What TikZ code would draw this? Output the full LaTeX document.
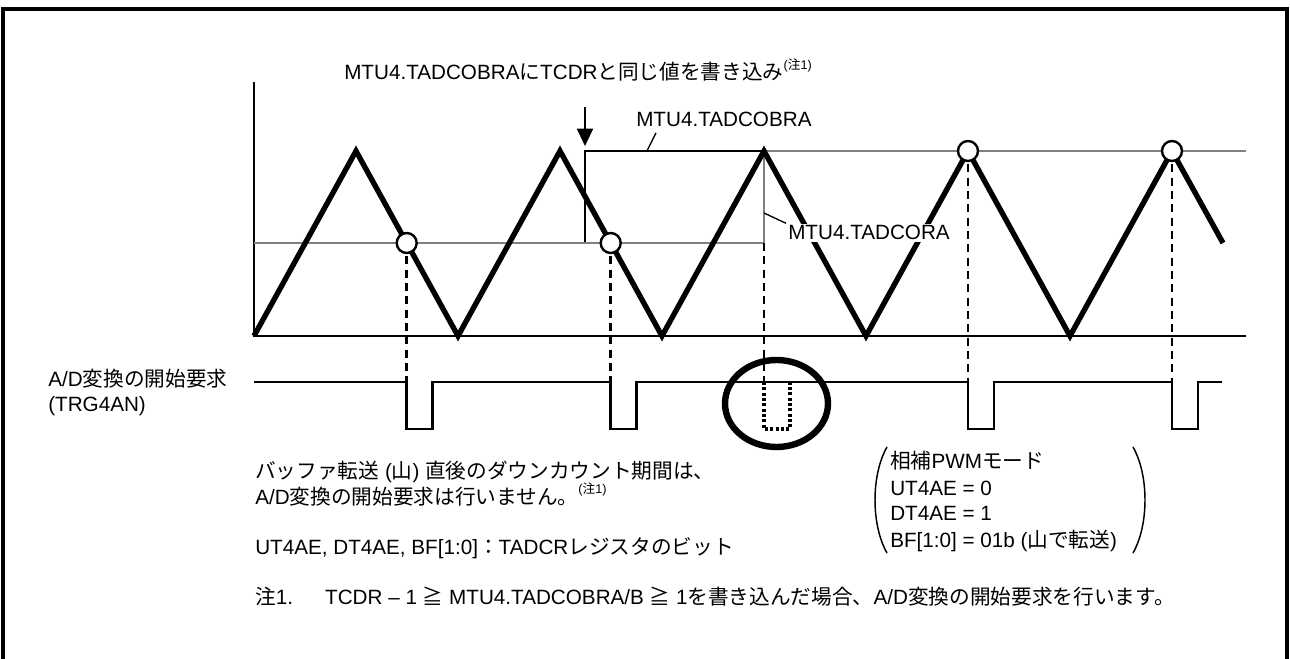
\documentclass[tikz,border=0pt]{standalone}
\usepackage{fontspec}
\setmainfont{Liberation Sans}
\newfontfamily\jpfont{Noto Sans CJK JP}
\usepackage{xcolor}
\usepackage{tikz}
\tikzset{>=latex}
\usetikzlibrary{
    positioning, % relative placement
    arrows.meta, % arrow tips
    calc % coordinate calculations
}
\definecolor{cmpgray}{RGB}{128,128,128}
\newcommand{\jp}[1]{{\jpfont #1}}
\newcommand{\chuone}{\raisebox{0.5em}{\fontsize{9.5}{10}\selectfont(\jp{注}1)}}

\begin{document}
\begin{tikzpicture}[x=0.75pt,y=-0.75pt]
    % styles
    \tikzstyle{txt}      = [inner sep=0pt, anchor=base west, font=\fontsize{15.5}{18}\selectfont]
    \tikzstyle{wave}     = [line width=4pt, line join=miter]
    \tikzstyle{cmpline}  = [draw=cmpgray, line width=2.2pt]
    \tikzstyle{dropline} = [line width=2pt, dash pattern=on 6pt off 4pt]
    \tikzstyle{trgline}  = [line width=2pt]
    \tikzstyle{hitmark}  = [draw, fill=white, line width=1.8pt]
    \useasboundingbox (0,0) rectangle (1290,659);
    % frame
    \draw[line width=2.5pt] (3,659) -- (3,9) -- (1287,9) -- (1287,659);
    % axes
    \draw[line width=1.2pt] (254,82) -- (254,336) -- (1246,336);
    % compare registers
    \draw[line width=1.5pt] (585,243) -- (585,151) -- (764,151);
    \draw[cmpline] (254,243) -- (764,243) -- (764,151) -- (1246,151);
    % counter
    \draw[wave] (254,336) \foreach \k in {0,...,3} { -- ({356+204*\k},151) -- ({458+204*\k},336) }
        -- (1172,151) -- (1223,243);
    % arrow
    \coordinate (wr) at (585,146);
    \draw[line width=1.5pt, -{Triangle[length=13pt,width=12pt]}] (585,107) -- (wr);
    % labels
    \node[txt] (top) at (344,80) {MTU4.TADCOBRA\jp{に}TCDR\jp{と同じ値を書き込み}\chuone};
    \node[txt] (cobra) at (636,127) {MTU4.TADCOBRA};
    \coordinate (cobratap) at (647,151);
    \draw[line width=1pt] (cobratap) -- ([xshift=15pt,yshift=-4pt]cobra.south west);
    \node[txt, fill=white, inner sep=1.5pt] (cora) at (786,240) {MTU4.TADCORA};
    \coordinate (coratap) at (764,213);
    \draw[line width=1pt] (coratap) -- (cora.north west);
    % drop lines and hit marks
    \foreach \x/\y in {406.7/243, 610.7/243, 764/243, 968/151, 1172/151}
        \draw[dropline] (\x,\y) -- (\x,382);
    \foreach \x/\y in {406.7/243, 610.7/243, 968/151, 1172/151}
        \draw[hitmark] (\x,\y) circle (10);
    % trigger signal
    \draw[trgline] (254,382) \foreach \p in {406.7,610.7,968,1172} { -- (\p,382) -- (\p,429) -- (\p+26,429) -- (\p+26,382) }
        -- (1222,382);
    \draw[line width=2.4pt, dash pattern=on 2.2pt off 1.8pt] (764,382) -- (764,429) -- (790,429) -- (790,382);
    \draw[line width=4.8pt] (776.5,403.5) ellipse [x radius=51.5, y radius=43.5];
    \node[txt] (trg1) at (48,387) {A/D\jp{変換の開始要求}};
    \node[txt] (trg2) at (48,412) {(TRG4AN)};
    % notes
    \node[txt] (buf1) at (255,479) {\jp{バッファ転送} (\jp{山}) \jp{直後のダウンカウント期間は、}};
    \node[txt] (buf2) at (255,504) {A/D\jp{変換の開始要求は行いません。}\chuone};
    \node[txt] (bits) at (255,554) {UT4AE, DT4AE, BF[1:0]\jp{：}TADCR\jp{レジスタのビット}};
    \node[txt] (note) at (255,604) {\jp{注}1.\hspace*{24pt}TCDR – 1 \jp{≧} MTU4.TADCOBRA/B \jp{≧} 1\jp{を書き込んだ場合、}A/D\jp{変換の開始要求を行います。}};
    % mode settings
    \node[txt] (mode1) at (890,469) {\jp{相補}PWM\jp{モード}};
    \node[txt] (mode2) at (890,495) {UT4AE = 0};
    \node[txt] (mode3) at (890,521) {DT4AE = 1};
    \node[txt] (mode4) at (890,547) {BF[1:0] = 01b (\jp{山で転送})};
    \draw[line width=1.1pt] (887,447) .. controls (871,475) and (871,525) .. (887,553);
    \draw[line width=1.1pt] (1133,447) .. controls (1149,475) and (1149,525) .. (1133,553);
\end{tikzpicture}
\end{document}
